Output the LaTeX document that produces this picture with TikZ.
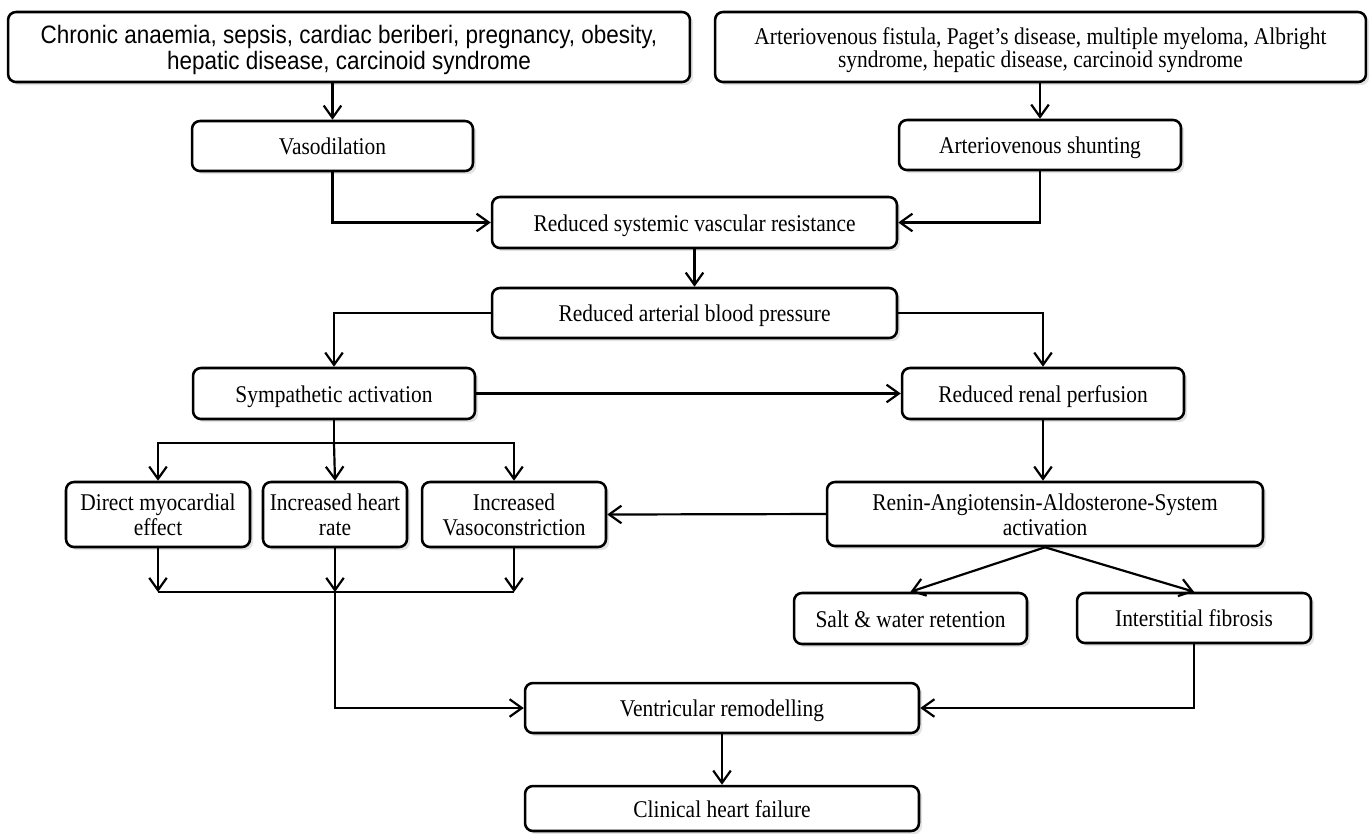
\documentclass[tikz,border=0pt]{standalone}
\usepackage{fontspec}
\setmainfont{Liberation Serif}
\newfontfamily\arialf{Liberation Sans}
\usetikzlibrary{arrows.meta,shadows,calc}
\newcommand{\vtx}[1]{\raisebox{-2.2pt}[\height][\depth]{\scalebox{1}[1.12]{\begin{tabular}{@{}c@{}}#1\end{tabular}}}}
\begin{document}
\begin{tikzpicture}[x=0.02cm,y=-0.02cm,
  box/.style={draw, line width=1.45pt, rounded corners=4.5pt, fill=white, align=center, inner sep=1pt,
    font=\fontsize{12.2}{12.7}\selectfont,
    drop shadow={shadow xshift=1.8pt, shadow yshift=-1.8pt, opacity=0.22}},
  arr/.style={line width=1.25pt, -{Straight Barb[length=7pt,width=10pt,line width=1.25pt]}},
  ln/.style={line width=1.25pt},
  thinln/.style={line width=0.6pt}]
\useasboundingbox (0,0) rectangle (1371,833);

% nodes
\node[box, minimum width=13.64cm, minimum height=1.40cm, font=\arialf\fontsize{12.8}{12.2}\selectfont] (cA) at (349,47)
  {\vtx{Chronic anaemia, sepsis, cardiac beriberi, pregnancy, obesity,\\ hepatic disease, carcinoid syndrome}};
\node[box, minimum width=13.02cm, minimum height=1.40cm, font=\fontsize{12.2}{11.4}\selectfont] (cB) at (1040.5,47)
  {\vtx{Arteriovenous fistula, Paget’s disease, multiple myeloma, Albright\\ syndrome, hepatic disease, carcinoid syndrome}};
\node[box, minimum width=5.62cm, minimum height=1.0cm] (vaso) at (332.5,146) {\vtx{Vasodilation}};
\node[box, minimum width=5.64cm, minimum height=1.0cm] (avs) at (1040,145) {\vtx{Arteriovenous shunting}};
\node[box, minimum width=8.1cm, minimum height=1.02cm] (rsvr) at (694.5,222.5) {\vtx{Reduced systemic vascular resistance}};
\node[box, minimum width=8.1cm, minimum height=1.0cm] (rabp) at (694.5,313) {\vtx{Reduced arterial blood pressure}};
\node[box, minimum width=5.64cm, minimum height=1.02cm] (symp) at (334,393.5) {\vtx{Sympathetic activation}};
\node[box, minimum width=5.64cm, minimum height=1.02cm] (renal) at (1043,393.5) {\vtx{Reduced renal perfusion}};
\node[box, minimum width=3.68cm, minimum height=1.3cm] (dme) at (158,514.5) {\vtx{Direct myocardial\\ effect}};
\node[box, minimum width=2.88cm, minimum height=1.3cm] (ihr) at (335,514.5) {\vtx{Increased heart\\ rate}};
\node[box, minimum width=3.68cm, minimum height=1.3cm] (ivc) at (514,514.5) {\vtx{Increased\\ Vasoconstriction}};
\node[box, minimum width=8.72cm, minimum height=1.28cm] (raas) at (1045,514) {\vtx{Renin-Angiotensin-Aldosterone-System\\ activation}};
\node[box, minimum width=4.66cm, minimum height=1.02cm] (salt) at (910.5,618.5) {\vtx{Salt \& water retention}};
\node[box, minimum width=4.68cm, minimum height=1.0cm] (ifib) at (1194,618) {\vtx{Interstitial fibrosis}};
\node[box, minimum width=7.88cm, minimum height=1.0cm] (vr) at (722,708) {\vtx{Ventricular remodelling}};
\node[box, minimum width=7.88cm, minimum height=0.9cm] (chf) at (722,808.5) {\vtx{Clinical heart failure}};

% connectors
\draw[arr] (cA.south -| vaso.north) -- (vaso.north);
\draw[arr] (cB.south -| avs.north) -- (avs.north);
\draw[arr] (vaso.south) |- (rsvr.west);
\draw[arr] (avs.south) |- (rsvr.east);
\draw[arr] (rsvr.south) -- (rabp.north);
\draw[arr] (rabp.west) -| (symp.north);
\draw[arr] (rabp.east) -| (renal.north);
\draw[arr] (symp.east) -- (renal.west);
\draw[arr] (renal.south) -- (renal.south |- raas.north);

\coordinate (sj) at (334,443);
\draw[ln] (symp.south) -- (sj);
\draw[arr] (sj) -| (dme.north);
\draw[arr] (sj) -| (ivc.north);
\draw[arr] (sj) -- (ihr.north);

\coordinate (jy) at (0,592);
\draw[arr] (dme.south) -- (dme.south |- jy);
\draw[arr] (ihr.south) -- (ihr.south |- jy);
\draw[arr] (ivc.south) -- (ivc.south |- jy);
\draw[thinln] (dme.south |- jy) -- (ivc.south |- jy);
\draw[arr] (ihr.south |- jy) |- (vr.west);

\draw[arr] (raas.west) -- (ivc.east);
\draw[arr] (raas.south) -- (salt.north);
\draw[arr] (raas.south) -- (ifib.north);
\draw[arr] (ifib.south) |- (vr.east);
\draw[arr] (vr.south) -- (chf.north);
\end{tikzpicture}
\end{document}
